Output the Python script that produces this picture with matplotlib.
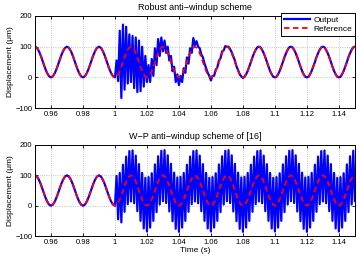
import numpy as np
import matplotlib
matplotlib.use("Agg")
import matplotlib.pyplot as plt

# reference: one 50 Hz period sampled every 1.25 ms, starting at t = 0.95
ref_cycle = [100, 96, 85, 69, 50, 31, 15, 4, 0, 4, 15, 31, 50, 69, 85, 96]
n_cycles = 10

# outputs after t = 1.0: peak (hi) and dip (lo) of each fast oscillation, 1 ms apart
robust_hi = [55, 152, 172, 165, 140, 135, 130, 120, 100, 70,
             40, 60, 95, 125, 130, 120, 100, 70, 35, 10,
             5, 30, 65, 95, 128, 118, 95, 65, 30, 5,
             5, 25, 55, 85, 102, 100, 82, 55, 24, 3,
             2, 21, 50, 79, 98, 98, 79, 50, 21, 2,
             2, 21, 50, 79, 98, 98, 79, 50, 21, 2,
             2, 21, 50, 79, 98, 98, 79, 50, 21, 2,
             2, 21, 50, 79, 98]
robust_lo = [-12, -67, -40, -20, -15, -35, -48, -45, -30, -15,
             -15, 5, 40, 70, 85, 80, 55, 20, -15, -25,
             -15, 15, 45, 80, 105, 100, 75, 45, 15, -10,
             5, 32, 62, 88, 100, 92, 68, 36, 10, -2,
             10, 35, 66, 90, 100, 90, 66, 35, 10, 0,
             10, 35, 66, 90, 100, 90, 66, 35, 10, 0,
             10, 35, 66, 90, 100, 90, 66, 35, 10, 0,
             10, 35, 66, 90, 100]

wp_hi = [98, 108, 135, 162, 180, 182, 165, 137, 108, 92,
         94, 107, 136, 163, 181, 183, 166, 138, 109, 93,
         95, 108, 135, 162, 180, 182, 165, 137, 108, 92,
         94, 107, 136, 163, 181, 183, 166, 138, 109, 93,
         95, 108, 135, 162, 180, 182, 165, 137, 108, 92,
         94, 107, 136, 163, 181, 183, 166, 138, 109, 93,
         95, 108, 135, 162, 180, 182, 165, 137, 108, 92,
         94, 107, 136, 163, 181]
wp_lo = [-45, -55, -20, 5, 14, 8, -18, -50, -75, -85,
         -72, -50, -21, 4, 15, 9, -19, -51, -76, -86,
         -72, -50, -20, 5, 14, 8, -18, -50, -75, -85,
         -72, -50, -21, 4, 15, 9, -19, -51, -76, -86,
         -72, -50, -20, 5, 14, 8, -18, -50, -75, -85,
         -72, -50, -21, 4, 15, 9, -19, -51, -76, -86,
         -72, -50, -20, 5, 14, 8, -18, -50, -75, -85,
         -72, -50, -21, 4, 15]

xticks = [0.96, 0.98, 1.0, 1.02, 1.04, 1.06, 1.08, 1.1, 1.12, 1.14]
xticklabels = ["0.96", "0.98", "1", "1.02", "1.04", "1.06", "1.08", "1.1", "1.12", "1.14"]
yticks = [-100, 0, 100, 200]
titles = ["Robust anti\u2212windup scheme", "W\u2212P anti\u2212windup scheme of [16]"]

plt.rcParams["font.family"] = ["Liberation Sans", "DejaVu Sans"]

ref = np.append(np.tile(ref_cycle, n_cycles), ref_cycle[0])
t_ref = 0.95 + np.arange(len(ref)) * 0.00125


def build_output(hi, lo):
    vals = [0.0]
    for h, l in zip(hi, lo):
        vals.append(h)
        vals.append(l)
    t_fast = 1.0 + np.arange(len(vals)) * 0.001
    before = t_ref < 1.0
    t = np.concatenate([t_ref[before], t_fast])
    y = np.concatenate([ref[before], vals])
    return t, y


fig = plt.figure(figsize=(3.57, 2.58), dpi=100)
ax1 = fig.add_axes([0.098, 0.581, 0.896, 0.357])
ax2 = fig.add_axes([0.098, 0.085, 0.896, 0.353])

for ax, (hi, lo), title in zip([ax1, ax2], [(robust_hi, robust_lo), (wp_hi, wp_lo)], titles):
    t, y = build_output(hi, lo)
    ax.plot(t, y, color="#0000ff", lw=1.6, label="Output")
    ax.plot(t_ref, ref, color="#ff0000", lw=1.3, ls=(0, (3, 2)), label="Reference")
    ax.set_xlim(0.95, 1.15)
    ax.set_ylim(-100, 200)
    ax.set_xticks(xticks)
    ax.set_xticklabels(xticklabels)
    ax.set_yticks(yticks)
    ax.grid(True, ls=":", color="#b0b0b0", lw=0.6)
    ax.tick_params(direction="in", length=2.5, labelsize=5.5, top=True, right=True, width=0.6, pad=2)
    for s in ax.spines.values():
        s.set_linewidth(0.7)
    ax.set_title(title, fontsize=6.5, pad=4)
    ax.set_ylabel("Displacement (\u03bcm)", fontsize=6, labelpad=1)

ax2.set_xlabel("Time (s)", fontsize=6, labelpad=1)
leg = ax1.legend(loc="upper right", bbox_to_anchor=(1.0, 1.03), fontsize=6,
                 fancybox=False, edgecolor="black", framealpha=1, handlelength=3.2,
                 borderpad=0.3, labelspacing=0.2, handletextpad=0.4, borderaxespad=0)
leg.get_frame().set_linewidth(0.7)

fig.savefig("out.png", dpi=100)
